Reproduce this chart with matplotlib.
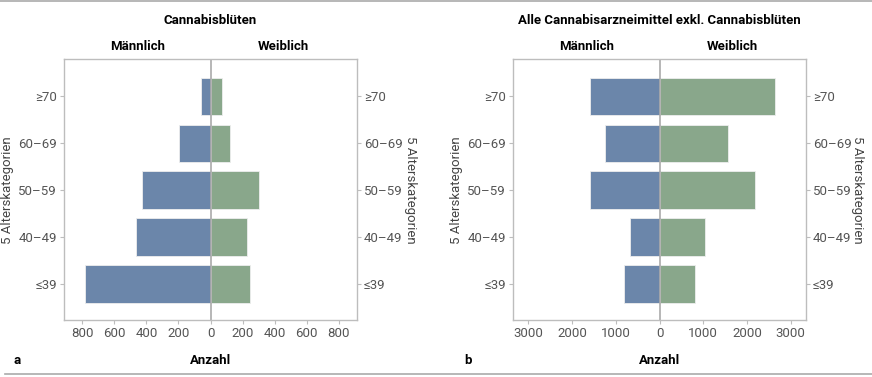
import matplotlib
matplotlib.use("Agg")
import matplotlib.pyplot as plt
from matplotlib.ticker import FuncFormatter

# ---- data -------------------------------------------------------------------
AGES = ["≤39", "40–49", "50–59", "60–69", "≥70"]
MALE_A = [786, 467, 427, 198, 58]
FEMALE_A = [244, 225, 300, 119, 73]
MALE_B = [807, 678, 1599, 1257, 1599]
FEMALE_B = [807, 1036, 2193, 1561, 2635]

TITLES = ["Cannabisblüten", "Alle Cannabisarzneimittel exkl. Cannabisblüten"]
PANELS = ["a", "b"]
XTICKS = [[-800, -600, -400, -200, 0, 200, 400, 600, 800],
          [-3000, -2000, -1000, 0, 1000, 2000, 3000]]
XLIMS = [915, 3350]

C_M, C_F = "#6b86aa", "#89a78b"
GRID = "#bdbdbd"
TXT = "#555555"

plt.rcParams.update({
    "font.family": ["Roboto", "DejaVu Sans"],
    "font.stretch": "condensed",
    "font.size": 9,
})

W, H = 872, 377
fig = plt.figure(figsize=(W / 100, H / 100), dpi=100)


def px(x0, y0, x1, y1):
    return [x0 / W, 1 - y1 / H, (x1 - x0) / W, (y1 - y0) / H]


boxes = [(64, 59, 357, 320), (513, 59, 806, 320)]
data = [(MALE_A, FEMALE_A), (MALE_B, FEMALE_B)]
ylab_x = [8, 410, 456, 857]
BOLD = dict(fontsize=9.5, fontweight="bold", ha="center", va="center")

for i, (box, (male, female)) in enumerate(zip(boxes, data)):
    ax = fig.add_axes(px(*box))
    y = range(len(AGES))
    ax.barh(y, [-m for m in male], 0.8, color=C_M, edgecolor="#eeeeee", lw=0.6)
    ax.barh(y, female, 0.8, color=C_F, edgecolor="#eeeeee", lw=0.6)
    ax.axvline(0, color="#aaaaaa", lw=1.2)
    lim = XLIMS[i]
    ax.set_xlim(-lim, lim)
    ax.set_ylim(-0.77, 4.8)
    ax.set_xticks(XTICKS[i])
    ax.xaxis.set_major_formatter(FuncFormatter(lambda v, _: f"{abs(int(v))}"))
    ax.set_yticks(list(y))
    ax.set_yticklabels(AGES)
    ax.tick_params(axis="y", right=True, labelright=True)
    ax.tick_params(colors=GRID, labelcolor=TXT, labelsize=9.5, length=3,
                   width=0.8, pad=2)
    for s in ax.spines.values():
        s.set_color(GRID)
        s.set_linewidth(1.0)

    x0, y0, x1, y1 = box
    cx = (x0 + x1) / 2
    fig.text(cx / W, 1 - 20 / H, TITLES[i], **BOLD)
    fig.text((x0 + cx) / 2 / W, 1 - 47 / H, "Männlich", **BOLD)
    fig.text((cx + x1) / 2 / W, 1 - 47 / H, "Weiblich", **BOLD)
    fig.text(cx / W, 1 - 361 / H, "Anzahl", **BOLD)
    fig.text((x0 - 51 + (2 if i else 0)) / W, 1 - 361 / H, PANELS[i],
             ha="left", va="center", fontsize=9.5, fontweight="bold")
    fig.text(ylab_x[2 * i] / W, 1 - 190 / H, "5 Alterskategorien",
             rotation=90, ha="center", va="center", fontsize=9.5, color="#444444")
    fig.text(ylab_x[2 * i + 1] / W, 1 - 190 / H, "5 Alterskategorien",
             rotation=270, ha="center", va="center", fontsize=9.5, color="#444444")

# horizontal rules top and bottom
fig.add_artist(plt.Line2D([0, 1], [1 - 1 / H, 1 - 1 / H], color="#aaaaaa", lw=1.2))
fig.add_artist(plt.Line2D([5 / W, 1], [1 - 374 / H, 1 - 374 / H], color="#aaaaaa", lw=1.2))

fig.savefig("out.png", dpi=100)
